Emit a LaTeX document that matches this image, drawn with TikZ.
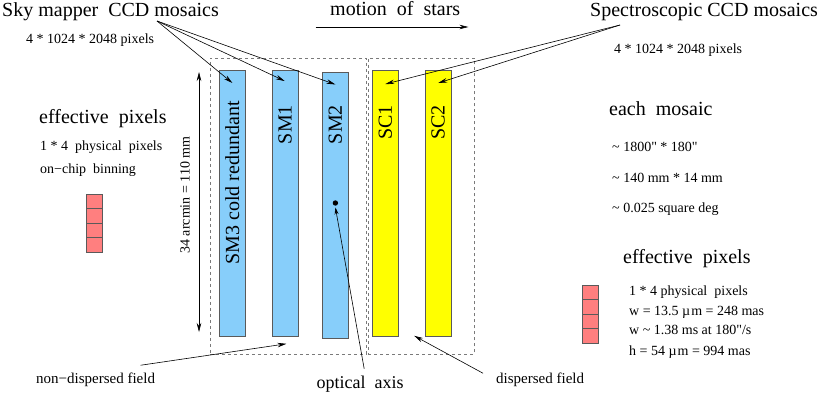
\documentclass[tikz,border=0pt]{standalone}
\usepackage{fontspec}
\setmainfont{Liberation Serif}[Ligatures=TeXOff]
\usetikzlibrary{arrows.meta,positioning,calc}
\definecolor{CcdBlue}{HTML}{87CEFA}
\definecolor{CcdYellow}{HTML}{FFFF00}
\definecolor{PixRed}{HTML}{FF7F7F}
\definecolor{Edge}{HTML}{5A5A5A}
\definecolor{Frame}{HTML}{7A7A7A}
\tikzset{
  headtext/.style={inner sep=0pt,anchor=base west,font=\fontsize{20}{22}\selectfont},
  fieldtext/.style={inner sep=0pt,anchor=base west,font=\fontsize{15}{17}\selectfont},
  notetext/.style={inner sep=0pt,anchor=base west,font=\fontsize{14}{16}\selectfont},
  ccd/.style={draw=Edge,line width=0.8pt,minimum width=26pt,minimum height=266pt,
    inner sep=0pt,anchor=north west},
  ccdblue/.style={ccd,fill=CcdBlue},
  ccdyellow/.style={ccd,fill=CcdYellow},
  ccdlabel/.style={inner sep=0pt,rotate=90,anchor=east,font=\fontsize{20}{22}\selectfont},
  fieldbox/.style={draw=Frame,dashed,line width=0.8pt,minimum height=296pt,
    inner sep=0pt,anchor=north west},
  pixcell/.style={draw=Edge,fill=PixRed,minimum width=16pt,minimum height=14.5pt,
    inner sep=0pt,outer sep=0pt},
  arrow/.style={-{Stealth[length=9pt,width=4.5pt]},line width=0.6pt},
  shortarrow/.style={-{Stealth[length=7pt,width=4pt]},line width=0.6pt},
  dimarrow/.style={{Stealth[length=9pt,width=4.5pt]}-{Stealth[length=9pt,width=4.5pt]},line width=0.6pt}
}
\begin{document}
\begin{tikzpicture}[x=1pt,y=-1pt]
  \useasboundingbox (0,0) rectangle (830,394);
  % dashed fields
  \node[fieldbox,minimum width=156pt] (nondisp) at (209.5,57.5) {};
  \node[fieldbox,minimum width=106.5pt] (disp) at (367.7,57.5) {};
  % CCD strips
  \node[ccdblue] (sm3) at (219,70) {};
  \node[ccdblue,right=26pt of sm3.north east,anchor=north west] (sm1) {};
  \node[ccdblue] (sm2) at (322,72) {};
  \node[ccdyellow] (sc1) at (372,70) {};
  \node[ccdyellow,right=26pt of sc1.north east,anchor=north west] (sc2) {};
  \node[ccdlabel] (sm3text) at ($(sm3.north)+(0,31)$) {SM3 cold redundant};
  \node[ccdlabel] (sm1text) at ($(sm1.north)+(0,35)$) {SM1};
  \node[ccdlabel] (sm2text) at ($(sm2.north)+(0,33)$) {SM2};
  \node[ccdlabel] (sc1text) at ($(sc1.north)+(0,35)$) {SC1};
  \node[ccdlabel] (sc2text) at ($(sc2.north)+(0,35)$) {SC2};
  % titles
  \node[headtext] (skyhead) at (2,16) {Sky mapper\ \ CCD mosaics};
  \node[notetext] (skypix) at (26,43.5) {4 * 1024 * 2048 pixels};
  \node[headtext] (motion) at (330,15) {motion\ \ of\ \ stars};
  \node[headtext] (spechead) at (590,16) {Spectroscopic CCD mosaics};
  \node[notetext] (specpix) at (614,53) {4 * 1024 * 2048 pixels};
  % left pixel notes
  \node[headtext] (leffhead) at (39,123) {effective\ \ pixels};
  \node[notetext] (lphys) at (40,150) {1 * 4\ \ physical\ \ pixels};
  \node[notetext] (lbin) at (40,173) {on−chip\ \ binning};
  \node[pixcell,anchor=north] (lpix1) at (94.5,194) {};
  \node[pixcell,below=0pt of lpix1] (lpix2) {};
  \node[pixcell,below=0pt of lpix2] (lpix3) {};
  \node[pixcell,below=0pt of lpix3] (lpix4) {};
  % right notes
  \node[headtext] (mosaichead) at (609,115) {each\ \ mosaic};
  \node[notetext] (msize) at (612,151) {\textasciitilde{} 1800" * 180"};
  \node[notetext] (mmm) at (612,182) {\textasciitilde{} 140 mm * 14 mm};
  \node[notetext] (mdeg) at (612,212) {\textasciitilde{} 0.025 square deg};
  \node[headtext] (reffhead) at (623,263) {effective\ \ pixels};
  \node[notetext] (rphys) at (629,295) {1 * 4 physical\ \ pixels};
  \node[notetext] (rw) at (629,315) {w = 13.5 µ\kern1pt m = 248 mas};
  \node[notetext] (rwt) at (629,334) {w \textasciitilde{} 1.38 ms at 180"/s};
  \node[notetext] (rh) at (629,355) {h = 54 µ\kern1pt m = 994 mas};
  \node[pixcell,anchor=north] (rpix1) at (590.5,285) {};
  \node[pixcell,below=0pt of rpix1] (rpix2) {};
  \node[pixcell,below=0pt of rpix2] (rpix3) {};
  \node[pixcell,below=0pt of rpix3] (rpix4) {};
  % field height
  \node[notetext,anchor=center,rotate=90] (height) at (185,195) {34 arcmin = 110 mm};
  \coordinate (dimtop) at (199,72);
  \coordinate (dimbot) at (199,332);
  \draw[dimarrow] (dimtop) -- (dimbot);
  % bottom labels
  \node[fieldtext] (ndlabel) at (36,383) {non−dispersed field};
  \node[headtext,font=\fontsize{18}{20}\selectfont] (axislabel) at (316.5,388.5) {optical\ \ axis};
  \node[fieldtext] (dlabel) at (496,383) {dispersed field};
  % arrows
  \coordinate (skyfrom) at (157,21);
  \coordinate (specfrom) at (620,25);
  \draw[arrow] (skyfrom) -- ($(sm3.north)+(0,13)$);
  \draw[arrow] (skyfrom) -- ($(sm1.north)+(-0.5,11)$);
  \draw[arrow] (skyfrom) -- ($(sm2.north)+(0,12.5)$);
  \draw[arrow] (specfrom) -- ($(sc1.north)+(0,14)$);
  \draw[arrow] (specfrom) -- ($(sc2.north)+(0,13)$);
  \draw[arrow] ($(motion.base west)+(-14.5,12)$) -- ($(motion.base east)+(8,12)$);
  \coordinate (axisdot) at ($(sm2.north)+(0,131)$);
  \fill (axisdot) circle (2.7);
  \draw[shortarrow] ($(axislabel.north)+(4,-7)$) -- ($(axisdot)+(0,4.5)$);
  \draw[arrow] ($(ndlabel.north)+(45,-7)$) -- ($(nondisp.south)+(-1.5,-10.5)$);
  \draw[arrow] ($(dlabel.north west)+(-13,1)$) -- ($(disp.south west)+(46.5,-18.5)$);
\end{tikzpicture}
\end{document}
